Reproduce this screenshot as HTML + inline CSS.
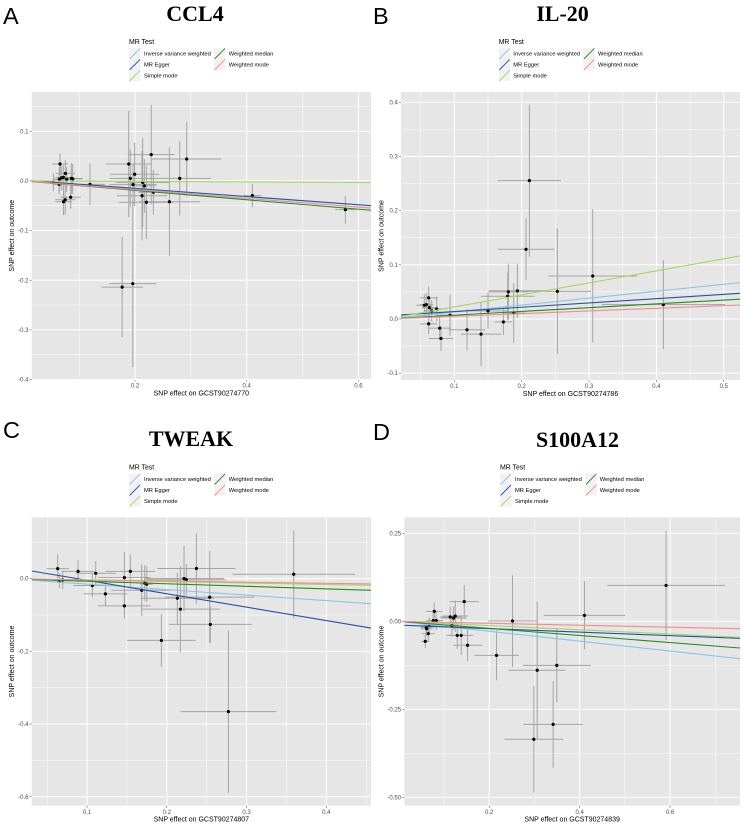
<!DOCTYPE html>
<html lang="en">
<head>
<meta charset="utf-8">
<title>MR scatter plots</title>
<style>
html,body{margin:0;padding:0;background:#fff;}
svg{display:block;}
text{font-family:"Liberation Sans",sans-serif;}
.title{font-family:"Liberation Serif",serif;font-weight:bold;font-size:22px;text-anchor:middle;fill:#000;}
.letter{font-size:23.5px;fill:#000;}
</style>
</head>
<body>
<svg id="figure" xmlns="http://www.w3.org/2000/svg" width="743" height="827" viewBox="0 0 743 827">
  <rect x="0" y="0" width="743" height="827" fill="#fff"/>
  <text class="letter" x="3" y="24">A</text>
  <text class="letter" x="373" y="24">B</text>
  <text class="letter" x="3" y="438">C</text>
  <text class="letter" x="373" y="440">D</text>
  <text class="title" x="195" y="21">CCL4</text>
  <text class="title" x="562.5" y="21">IL-20</text>
  <text class="title" x="191" y="446">TWEAK</text>
  <text class="title" x="577.5" y="447">S100A12</text>
</svg>
<script>
/* Shared legend data */
const methodNames = ["Inverse variance weighted", "MR Egger", "Simple mode", "Weighted median", "Weighted mode"];
const methodColors = ["#86c5e8", "#2a4ea6", "#a2d860", "#228b22", "#f58a8a"];

/* Panel A: CCL4 */
const ccl4X = [.0657,.0645,.068,.0717,.0753,.0777,.086,.0884,.0538,.064,.0848,.075,.072,.1194,.1887,.1994,.1916,.1964,.196,.177,.229,.2137,.2167,.2125,.2203,.2328,.2615,.28,.2925,.41,.5766];
const ccl4Y = [.034,.003,.006,.007,.015,.003,.005,.004,-.003,-.007,-.033,-.038,-.042,-.007,.034,.0134,.005,-.0075,-.207,-.214,.053,-.003,-.01,-.03,-.043,-.023,-.042,.005,.044,-.0296,-.058];
const ccl4XErr = [.014,.012,.012,.012,.017,.012,.02,.018,.008,.012,.018,.018,.015,.027,.041,.044,.037,.042,.042,.037,.042,.048,.021,.045,.05,.027,.055,.056,.062,.0167,.018];
const ccl4YErr = [.022,.025,.025,.025,.027,.025,.031,.03,.018,.02,.023,.03,.027,.042,.107,.064,.058,.042,.168,.101,.1,.09,.054,.09,.074,.045,.109,.075,.075,.0235,.028];
const ccl4Slopes = [-.0805,-.0825,-.005,-.095,-.088];
const ccl4Intercepts = [0,.0015,0,0,0];
const ccl4XMajor = [.2,.4,.6];
const ccl4XLabels = ["0.2","0.4","0.6"];
const ccl4XMinor = [.1,.3,.5];
const ccl4YMajor = [.1,0,-.1,-.2,-.3,-.4];
const ccl4YLabels = ["0.1","0.0","-0.1","-0.2","-0.3","-0.4"];
const ccl4YMinor = [.15,.05,-.05,-.15,-.25,-.35];

/* Panel B: IL-20 */
const il20X = [.0554,.0584,.0619,.0629,.0663,.0738,.0619,.0782,.0802,.0936,.1188,.1396,.15,.1728,.1792,.1802,.1881,.1936,.2064,.2114,.2529,.3055,.4103];
const il20Y = [.0252,.0265,.039,.021,.015,.0185,-.009,-.017,-.036,.007,-.02,-.028,.015,-.0055,.042,.05,.011,.052,.1286,.2554,.051,.0794,.0264];
const il20XErr = [.012,.01,.013,.012,.011,.015,.013,.017,.018,.02,.027,.03,.03,.013,.04,.03,.017,.042,.042,.047,.05,.066,.0915];
const il20YErr = [.02,.021,.021,.02,.02,.023,.019,.022,.023,.038,.038,.059,.033,.024,.043,.052,.055,.05,.057,.14,.116,.123,.082];
const il20Slopes = [.128,.0795,.222,.0695,.0492];
const il20Intercepts = [0,.0057,0,0,0];
const il20XMajor = [.1,.2,.3,.4,.5];
const il20XLabels = ["0.1","0.2","0.3","0.4","0.5"];
const il20XMinor = [.05,.15,.25,.35,.45];
const il20YMajor = [.4,.3,.2,.1,0,-.1];
const il20YLabels = ["0.4","0.3","0.2","0.1","0.0","-0.1"];
const il20YMinor = [.35,.25,.15,.05,-.05];

/* Panel C: TWEAK */
const tweakX = [.0632,.0653,.0695,.0887,.1067,.1109,.123,.1468,.1468,.1543,.1685,.1723,.1748,.1932,.2132,.217,.2216,.2245,.2371,.2538,.2546,.2772,.3591];
const tweakY = [.0275,-.0055,-.0037,.02,-.019,.0147,-.042,.0028,-.075,.02,-.032,-.012,-.015,-.17,-.054,-.084,0,-.003,.028,-.051,-.126,-.366,.012];
const tweakXErr = [.014,.007,.007,.021,.024,.025,.027,.033,.033,.031,.038,.011,.008,.043,.046,.049,.05,.05,.049,.056,.052,.06,.077];
const tweakYErr = [.039,.02,.025,.031,.032,.034,.033,.071,.035,.046,.071,.049,.049,.0725,.071,.119,.09,.043,.097,.127,.05,.223,.12];
const tweakSlopes = [-.151,-.369,-.04,-.0705,-.032];
const tweakIntercepts = [0,.0323,0,0,0];
const tweakXMajor = [.1,.2,.3,.4];
const tweakXLabels = ["0.1","0.2","0.3","0.4"];
const tweakXMinor = [.05,.15,.25,.35,.45];
const tweakYMajor = [0,-.2,-.4,-.6];
const tweakYLabels = ["0.0","-0.2","-0.4","-0.6"];
const tweakYMinor = [.1,-.1,-.3,-.5];

/* Panel D: S100A12 */
const s100a12X = [.0586,.0608,.0615,.0652,.0674,.0762,.0785,.0829,.1138,.1175,.1212,.1249,.1293,.1381,.1448,.1521,.2162,.2516,.3061,.3495,.3414,.2987,.4107,.5912];
const s100a12Y = [-.0568,-.017,-.021,-.035,-.0123,.002,.0284,.002,.0123,-.0123,.0095,.015,-.04,-.04,.056,-.068,-.0966,.001,-.139,-.125,-.2926,-.335,.017,.102];
const s100a12XErr = [.009,.013,.013,.014,.015,.015,.018,.015,.022,.015,.028,.028,.024,.027,.032,.032,.049,.054,.063,.075,.066,.065,.09,.13];
const s100a12YErr = [.019,.02,.02,.021,.024,.022,.025,.027,.03,.03,.033,.045,.039,.055,.047,.045,.071,.13,.195,.105,.123,.152,.097,.155];
const s100a12Slopes = [-.1405,-.0497,-.0603,-.1004,-.0276];
const s100a12Intercepts = [0,-.0108,0,0,0];
const s100a12XMajor = [.2,.4,.6];
const s100a12XLabels = ["0.2","0.4","0.6"];
const s100a12XMinor = [.1,.3,.5,.7];
const s100a12YMajor = [.25,0,-.25,-.5];
const s100a12YLabels = ["0.25","0.00","-0.25","-0.50"];
const s100a12YMinor = [.125,-.125,-.375];

const SVG_NS = "http://www.w3.org/2000/svg";
const figure = document.getElementById("figure");

function make(tag, attrs, parent) {
  const node = document.createElementNS(SVG_NS, tag);
  for (const key in attrs) node.setAttribute(key, attrs[key]);
  parent.appendChild(node);
  return node;
}

function drawLegend(slug, g, L) {
  const legend = make("g", {}, g);
  
  
  const heading = make("text", {x: L.keyX1, y: L.top - 4, "font-size": 6.9, fill: "#000"}, legend);
  
  
  heading.textContent = "MR Test";
  methodNames.forEach(function (name, i) {
    const col = i < 3 ? 0 : 1;
    const row = i < 3 ? i : i - 3;
    const kx = col === 0 ? L.keyX1 : L.keyX2;
    const tx = col === 0 ? L.textX1 : L.textX2;
    const ky = L.top + row * 11;
    const entry = make("g", {}, legend);
    
    
    const box = make("rect", {x: kx, y: ky, width: 11.5, height: 11, fill: "#f2f2f2"}, entry);
    
    
    const stroke = make("line", {x1: kx + 0.6, y1: ky + 11, x2: kx + 11, y2: ky + 0.4, stroke: methodColors[i], "stroke-width": 0.9}, entry);
    
    
    const label = make("text", {x: tx, y: ky + 7.7, "font-size": 5.75, fill: "#000"}, entry);
    
    
    label.textContent = name;
  });
}

function drawPanel(p) {
  const g = make("g", {}, figure);
  
  
  const sx = function (v) { return p.left + (v - p.xDom[0]) * (p.right - p.left) / (p.xDom[1] - p.xDom[0]); };
  const sy = function (v) { return p.bottom - (v - p.yDom[0]) * (p.bottom - p.top) / (p.yDom[1] - p.yDom[0]); };

  const bg = make("rect", {x: p.left, y: p.top, width: p.right - p.left, height: p.bottom - p.top, fill: "#e6e6e6"}, g);
  
  

  const clip = make("clipPath", {id: "clip-" + p.slug}, g);
  make("rect", {x: p.left, y: p.top, width: p.right - p.left, height: p.bottom - p.top}, clip);

  p.xMinor.forEach(function (v) {
    const line = make("line", {x1: sx(v), x2: sx(v), y1: p.top, y2: p.bottom, stroke: "#fff", "stroke-width": 0.5}, g);
    
    
  });
  p.yMinor.forEach(function (v) {
    const line = make("line", {x1: p.left, x2: p.right, y1: sy(v), y2: sy(v), stroke: "#fff", "stroke-width": 0.5}, g);
    
    
  });
  p.xMajor.forEach(function (v, i) {
    const line = make("line", {x1: sx(v), x2: sx(v), y1: p.top, y2: p.bottom, stroke: "#fff", "stroke-width": 1}, g);
    
    
    const tick = make("line", {x1: sx(v), x2: sx(v), y1: p.bottom, y2: p.bottom + 2.2, stroke: "#444", "stroke-width": 0.5}, g);
    
    
    const label = make("text", {x: sx(v), y: p.bottom + 8.2, "font-size": 6, fill: "#4d4d4d", "text-anchor": "middle"}, g);
    
    
    label.textContent = p.xLabels[i];
  });
  p.yMajor.forEach(function (v, i) {
    const line = make("line", {x1: p.left, x2: p.right, y1: sy(v), y2: sy(v), stroke: "#fff", "stroke-width": 1}, g);
    
    
    const tick = make("line", {x1: p.left - 2.2, x2: p.left, y1: sy(v), y2: sy(v), stroke: "#444", "stroke-width": 0.5}, g);
    
    
    const label = make("text", {x: p.left - 3.2, y: sy(v) + 2.1, "font-size": 6, fill: "#4d4d4d", "text-anchor": "end"}, g);
    
    
    label.textContent = p.yLabels[i];
  });

  const marks = make("g", {"clip-path": "url(#clip-" + p.slug + ")"}, g);
  
  

  p.x.forEach(function (xv, i) {
    const yv = p.y[i];
    const ev = make("line", {x1: sx(xv), x2: sx(xv), y1: sy(yv - p.yErr[i]), y2: sy(yv + p.yErr[i]), stroke: "#a4a4a4", "stroke-width": 1}, marks);
    
    
    const eh = make("line", {x1: sx(xv - p.xErr[i]), x2: sx(xv + p.xErr[i]), y1: sy(yv), y2: sy(yv), stroke: "#a4a4a4", "stroke-width": 1}, marks);
    
    
  });
  p.x.forEach(function (xv, i) {
    const dot = make("circle", {cx: sx(xv), cy: sy(p.y[i]), r: 1.6, fill: "#000"}, marks);
    
    
  });
  p.slopes.forEach(function (m, i) {
    const b = p.intercepts[i];
    const fit = make("line", {x1: sx(p.xDom[0]), y1: sy(b + m * p.xDom[0]), x2: sx(p.xDom[1]), y2: sy(b + m * p.xDom[1]), stroke: methodColors[i], "stroke-width": 1.1}, marks);
    
    
  });

  const xTitle = make("text", {x: (p.left + p.right) / 2, y: p.bottom + 16, "font-size": 7, fill: "#000", "text-anchor": "middle"}, g);
  
  
  xTitle.textContent = p.xTitle;
  const yMid = (p.top + p.bottom) / 2;
  const yTitle = make("text", {x: p.yTitleX, y: yMid, "font-size": 7, fill: "#000", "text-anchor": "middle", transform: "rotate(-90 " + p.yTitleX + " " + yMid + ")"}, g);
  
  
  yTitle.textContent = "SNP effect on outcome";

  drawLegend(p.slug, g, p.legend);
}

drawPanel({
  slug: "ccl4", left: 31.7, right: 371, top: 92, bottom: 379.5,
  xDom: [.015, .6225], yDom: [-.4, .179], yTitleX: 14.2,
  x: ccl4X, y: ccl4Y, xErr: ccl4XErr, yErr: ccl4YErr, slopes: ccl4Slopes, intercepts: ccl4Intercepts,
  xMajor: ccl4XMajor, xLabels: ccl4XLabels, xMinor: ccl4XMinor, yMajor: ccl4YMajor, yLabels: ccl4YLabels, yMinor: ccl4YMinor,
  xTitle: "SNP effect on GCST90274770",
  legend: {keyX1: 129, keyX2: 214, textX1: 144, textX2: 228.7, top: 48}
});
drawPanel({
  slug: "il20", left: 401, right: 740, top: 92, bottom: 380,
  xDom: [.0208, .5241], yDom: [-.1127, .419], yTitleX: 383.5,
  x: il20X, y: il20Y, xErr: il20XErr, yErr: il20YErr, slopes: il20Slopes, intercepts: il20Intercepts,
  xMajor: il20XMajor, xLabels: il20XLabels, xMinor: il20XMinor, yMajor: il20YMajor, yLabels: il20YLabels, yMinor: il20YMinor,
  xTitle: "SNP effect on GCST90274786",
  legend: {keyX1: 498.7, keyX2: 583.3, textX1: 513.3, textX2: 598, top: 48}
});
drawPanel({
  slug: "tweak", left: 31.7, right: 371, top: 517.3, bottom: 805.7,
  xDom: [.0306, .456], yDom: [-.6248, .1688], yTitleX: 14.2,
  x: tweakX, y: tweakY, xErr: tweakXErr, yErr: tweakYErr, slopes: tweakSlopes, intercepts: tweakIntercepts,
  xMajor: tweakXMajor, xLabels: tweakXLabels, xMinor: tweakXMinor, yMajor: tweakYMajor, yLabels: tweakYLabels, yMinor: tweakYMinor,
  xTitle: "SNP effect on GCST90274807",
  legend: {keyX1: 129, keyX2: 214, textX1: 144, textX2: 228.7, top: 473.5}
});
drawPanel({
  slug: "s100a12", left: 404.3, right: 740, top: 517.3, bottom: 805.7,
  xDom: [.0122, .7547], yDom: [-.5237, .2955], yTitleX: 383.5,
  x: s100a12X, y: s100a12Y, xErr: s100a12XErr, yErr: s100a12YErr, slopes: s100a12Slopes, intercepts: s100a12Intercepts,
  xMajor: s100a12XMajor, xLabels: s100a12XLabels, xMinor: s100a12XMinor, yMajor: s100a12YMajor, yLabels: s100a12YLabels, yMinor: s100a12YMinor,
  xTitle: "SNP effect on GCST90274839",
  legend: {keyX1: 500, keyX2: 585.3, textX1: 515, textX2: 599.7, top: 473.5}
});
</script>
</body>
</html>
